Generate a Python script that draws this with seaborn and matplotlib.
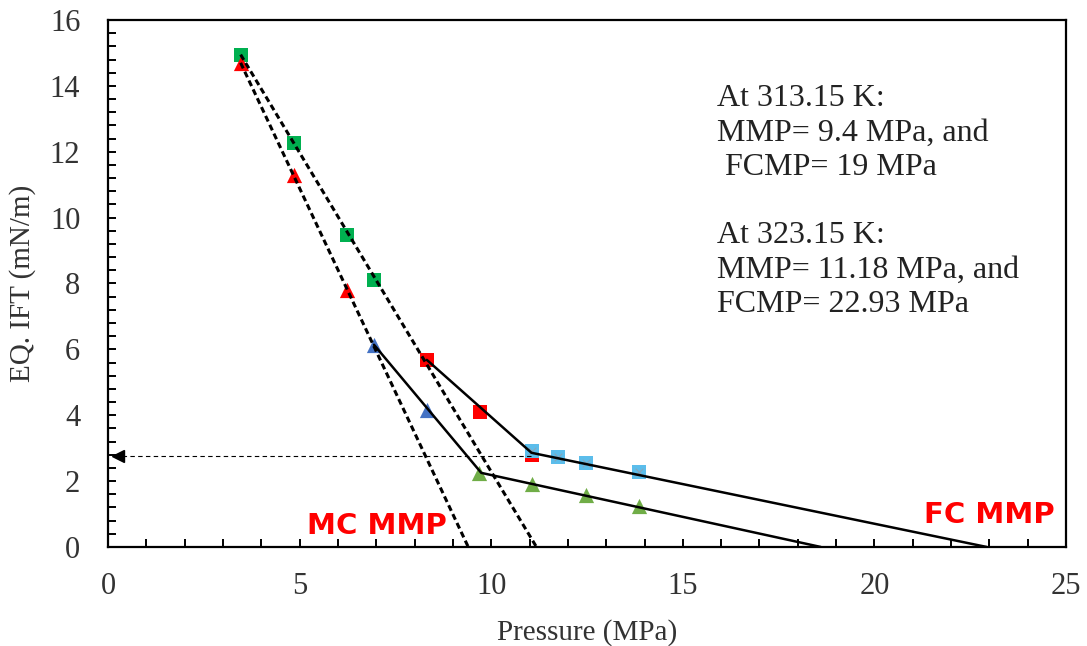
import numpy as np
import pandas as pd
import seaborn as sns
import matplotlib
matplotlib.use("Agg")
import matplotlib.pyplot as plt
from matplotlib.ticker import MultipleLocator

# ---------------- data ----------------
# measured points (Pressure MPa, EQ. IFT mN/m)
green_sq_p = [3.46, 4.84, 6.23, 6.94]
green_sq_ift = [14.95, 12.28, 9.48, 8.12]

red_tri_p = [3.46, 4.84, 6.23]
red_tri_ift = [14.70, 11.28, 7.81]

blue_tri_p = [6.94, 8.32]
blue_tri_ift = [6.14, 4.16]

green_tri_p = [9.69, 11.07, 12.46, 13.85]
green_tri_ift = [2.25, 1.91, 1.58, 1.25]

red_sq_p = [8.32, 9.71, 11.07]
red_sq_ift = [5.68, 4.10, 2.80]

lblue_sq_p = [11.07, 11.75, 12.46, 13.85]
lblue_sq_ift = [2.92, 2.74, 2.55, 2.28]

# fitted lines
mc_line1_p = [3.46, 9.40]
mc_line1_ift = [14.70, 0.0]
mc_line2_p = [3.46, 11.18]
mc_line2_ift = [14.95, 0.0]

fc_line1_p = [6.94, 9.74, 18.60]
fc_line1_ift = [6.14, 2.25, 0.0]
fc_line2_p = [8.32, 11.05, 22.93]
fc_line2_ift = [5.68, 2.86, 0.0]

# dotted arrow to the y axis
arrow_p = [11.05, 0.25]
arrow_ift = [2.75, 2.75]

info_text = ("At 313.15 K:\nMMP= 9.4 MPa, and\n FCMP= 19 MPa\n\n"
             "At 323.15 K:\nMMP= 11.18 MPa, and\nFCMP= 22.93 MPa")

# ---------------- style ----------------
sns.set_theme(style="white")
plt.rcParams['font.family'] = ['Liberation Serif', 'DejaVu Serif']
plt.rcParams['axes.linewidth'] = 1.6

fig = plt.figure(figsize=(10.87, 6.46), dpi=100)
ax = fig.add_axes([0.0994, 0.1533, 0.8813, 0.8157])

# markers
sns.scatterplot(x=green_sq_p, y=green_sq_ift, marker='s', s=110, color='#00B050',
                edgecolor='#00B050', linewidth=0, ax=ax, zorder=2)
sns.scatterplot(x=red_tri_p, y=red_tri_ift, marker='^', s=120, color='#FF0000',
                edgecolor='#FF0000', linewidth=0, ax=ax, zorder=2)
sns.scatterplot(x=blue_tri_p, y=blue_tri_ift, marker='^', s=120, color='#4472C4',
                edgecolor='#4472C4', linewidth=0, ax=ax, zorder=2)
sns.scatterplot(x=green_tri_p, y=green_tri_ift, marker='^', s=120, color='#70AD47',
                edgecolor='#70AD47', linewidth=0, ax=ax, zorder=2)
sns.scatterplot(x=red_sq_p, y=red_sq_ift, marker='s', s=110, color='#FF0000',
                edgecolor='#FF0000', linewidth=0, ax=ax, zorder=2)
sns.scatterplot(x=lblue_sq_p, y=lblue_sq_ift, marker='s', s=110, color='#5BBDEB',
                edgecolor='#5BBDEB', linewidth=0, ax=ax, zorder=3)
sns.scatterplot(x=lblue_sq_p, y=lblue_sq_ift, marker='x', s=30, color='#8AA4B8',
                linewidth=0.8, ax=ax, zorder=3)

# lines
for px, py in [(mc_line1_p, mc_line1_ift), (mc_line2_p, mc_line2_ift)]:
    sns.lineplot(x=px, y=py, color='black', lw=2.2, ax=ax, sort=False,
                 estimator=None, zorder=4, linestyle=(0, (2.0, 1.2)))
for px, py in [(fc_line1_p, fc_line1_ift), (fc_line2_p, fc_line2_ift)]:
    sns.lineplot(x=px, y=py, color='black', lw=1.8, ax=ax, sort=False,
                 estimator=None, zorder=4)

# dotted arrow
ax.plot(arrow_p, arrow_ift, color='black', lw=0.8, linestyle=(0, (4, 3)), zorder=4)
ax.plot(arrow_p[1], arrow_ift[1], marker='<', color='black', markersize=8,
        zorder=5, clip_on=False)

# annotations
ax.text(15.9, 14.05, info_text, fontsize=23, va='top', ha='left',
        linespacing=1.24, color='#222222')
ax.text(5.2, 0.38, "MC MMP", fontsize=21, fontweight='bold', color='#FF0000',
        family='DejaVu Sans', va='baseline', ha='left')
ax.text(21.3, 0.72, "FC MMP", fontsize=21, fontweight='bold', color='#FF0000',
        family='DejaVu Sans', va='baseline', ha='left')

# axes
ax.set_xlim(0, 25)
ax.set_ylim(0, 16)
ax.xaxis.set_major_locator(MultipleLocator(5))
ax.xaxis.set_minor_locator(MultipleLocator(1))
ax.yaxis.set_major_locator(MultipleLocator(2))
ax.yaxis.set_minor_locator(MultipleLocator(0.4))
ax.tick_params(which='both', direction='in', length=6, width=1.4, color='black',
               bottom=True, left=True, top=False, right=False)
ax.tick_params(axis='x', which='major', pad=18, labelsize=22, labelcolor='#333333')
ax.tick_params(axis='y', which='major', pad=20, labelsize=22, labelcolor='#333333')
for sp in ax.spines.values():
    sp.set_color('black')
    sp.set_linewidth(1.6)

ax.set_xlabel("Pressure (MPa)", fontsize=21, color='#333333', labelpad=13)
ax.set_ylabel("EQ. IFT (mN/m)", fontsize=21, color='#333333', labelpad=10)

fig.savefig("out.png", dpi=100)
